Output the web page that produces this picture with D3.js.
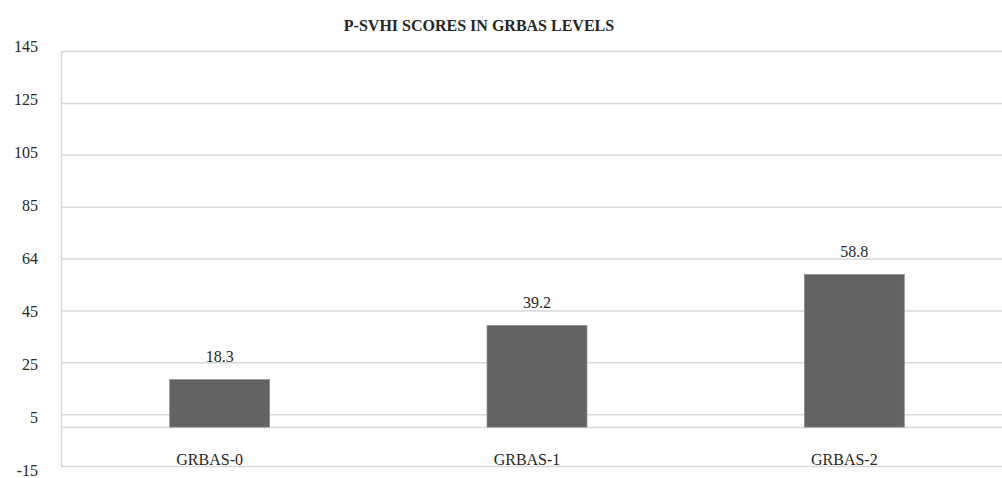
<!DOCTYPE html>
<html>
<head>
<meta charset="utf-8">
<script src="https://cdn.jsdelivr.net/npm/d3@7"></script>
<style>
  body { margin: 0; background: #fff; }
</style>
</head>
<body>
<div id="chart-area"></div>
<script>
// chart data
var categories = ["GRBAS-0", "GRBAS-1", "GRBAS-2"];
var scores = [18.3, 39.2, 58.8];
var tickValues = [-15, 5, 25, 45, 65, 85, 105, 125, 145];
var tickLabels = ["-15", "5", "25", "45", "64", "85", "105", "125", "145"];

var width = 1002, height = 478;
var margin = {left: 61, right: -11, top: 51, bottom: 12};
var fontFam = "'Liberation Serif', 'Times New Roman', Times, serif";

var svg = d3.select("#chart-area")
    .append("svg")
        .attr("width", width)
        .attr("height", height)
        .attr("font-family", fontFam)
        .style("font-family", fontFam);

var x = d3.scaleBand()
    .domain(categories)
    .range([margin.left, width - margin.right])
    .paddingInner(0.685)
    .paddingOuter(0.3425);

var y = d3.scaleLinear()
    .domain([-15, 145])
    .range([height - margin.bottom, margin.top]);

// tick labels sit on a slightly wider spacing than the grid
var yLabel = d3.scaleLinear()
    .domain([-15, 145])
    .range([470, 46]);

// gridlines
svg.append("g")
    .selectAll("line")
    .data(tickValues)
    .enter().append("line")
        .attr("x1", margin.left)
        .attr("x2", width)
        .attr("y1", function(d){ return y(d) + 0.5; })
        .attr("y2", function(d){ return y(d) + 0.5; })
        .attr("stroke", "#d9d9d9")
        .attr("stroke-width", 1.5);

// zero line
svg.append("line")
    .attr("x1", margin.left)
    .attr("x2", width)
    .attr("y1", y(0) + 0.5)
    .attr("y2", y(0) + 0.5)
    .attr("stroke", "#d9d9d9")
    .attr("stroke-width", 1.5);

// left axis line
svg.append("line")
    .attr("x1", margin.left + 0.5)
    .attr("x2", margin.left + 0.5)
    .attr("y1", y(145))
    .attr("y2", y(-15))
    .attr("stroke", "#d9d9d9")
    .attr("stroke-width", 1.5);

// y tick labels
svg.append("g")
    .selectAll("text")
    .data(tickValues)
    .enter().append("text")
        .attr("x", 38)
        .attr("y", function(d){ return yLabel(d); })
        .attr("dy", "0.35em")
        .attr("text-anchor", "end")
        .attr("font-size", "16px")
        .attr("fill", "#262626")
        .text(function(d, i){ return tickLabels[i]; });

// bars
svg.append("g")
    .selectAll("rect")
    .data(scores)
    .enter().append("rect")
        .attr("x", function(d, i){ return x(categories[i]); })
        .attr("width", x.bandwidth())
        .attr("y", function(d){ return y(d); })
        .attr("height", function(d){ return y(0) - y(d); })
        .attr("fill", "#636363")
        .attr("stroke", "#8a8a8a")
        .attr("stroke-width", 0.7);

// value labels
svg.append("g")
    .selectAll("text")
    .data(scores)
    .enter().append("text")
        .attr("x", function(d, i){ return x(categories[i]) + x.bandwidth() / 2; })
        .attr("y", function(d){ return y(d) - 23; })
        .attr("dy", "0.35em")
        .attr("text-anchor", "middle")
        .attr("font-size", "16px")
        .attr("fill", "#262626")
        .text(function(d){ return d.toFixed(1); });

// category labels
svg.append("g")
    .selectAll("text")
    .data(categories)
    .enter().append("text")
        .attr("x", function(d){ return x(d) + x.bandwidth() / 2 - 10; })
        .attr("y", y(-15) - 1)
        .attr("text-anchor", "middle")
        .attr("font-size", "16px")
        .attr("fill", "#262626")
        .text(function(d){ return d; });

// title
svg.append("text")
    .attr("x", 479)
    .attr("y", 31)
    .attr("text-anchor", "middle")
    .attr("font-size", "16px")
    .attr("font-weight", "bold")
    .attr("fill", "#262626")
    .text("P-SVHI SCORES IN GRBAS LEVELS");
</script>
</body>
</html>
